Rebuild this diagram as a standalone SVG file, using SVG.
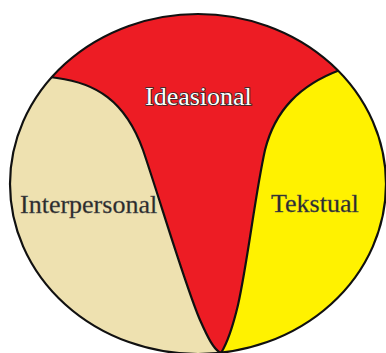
<svg xmlns="http://www.w3.org/2000/svg" width="386" height="353" viewBox="0 0 386 353">
<style>
.lbl{font-family:"Liberation Serif","Times New Roman",serif;font-size:26px;}
.dark{fill:#2a2a2a;stroke:#555555;stroke-width:0.3;}
.emb{fill:#ffffff;stroke:#2a2a2a;stroke-width:1.6;paint-order:stroke;}
.edge{fill:none;stroke:#111111;stroke-width:2.2;}
</style>
<defs>
<clipPath id="oval"><ellipse cx="198" cy="184" rx="188" ry="170"/></clipPath>
</defs>
<rect width="386" height="353" fill="#ffffff"/>
<g id="ideasional">
<ellipse cx="198" cy="184" rx="188" ry="170" fill="#ED1C24"/>
<text class="lbl emb" x="145" y="105">Ideasional</text>
</g>
<g id="interpersonal">
<path clip-path="url(#oval)" d="M40,75 L57,78 C95,83 125,100 143,150 C160,200 185,285 200,320 C208,338 214,350 221,353 L221,400 L-20,400 L-20,75 Z" fill="#EEE1B0"/>
<text class="lbl dark" x="20" y="213">Interpersonal</text>
</g>
<g id="tekstual">
<path clip-path="url(#oval)" d="M360,60 L340,70 C300,85 275,110 265,150 C255,195 248,260 238,305 C232,330 226,345 221,353 L221,400 L400,400 L400,60 Z" fill="#FFF200"/>
<text class="lbl dark" x="271" y="212">Tekstual</text>
</g>
<g id="connectors">
<path class="edge" clip-path="url(#oval)" d="M50,77 L57,78 C95,83 125,100 143,150 C160,200 185,285 200,320 C208,338 214,350 221,353"/>
<path class="edge" clip-path="url(#oval)" d="M350,65 L340,70 C300,85 275,110 265,150 C255,195 248,260 238,305 C232,330 226,345 221,353"/>
<ellipse class="edge" cx="198" cy="184" rx="188" ry="170"/>
</g>
</svg>
